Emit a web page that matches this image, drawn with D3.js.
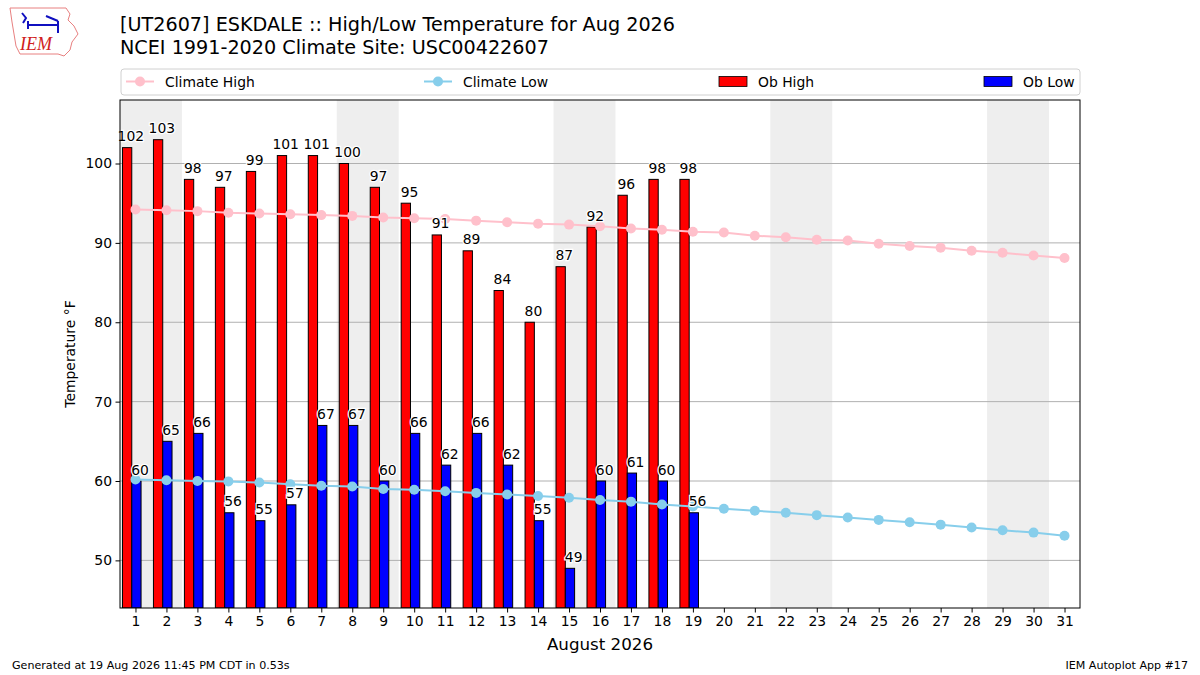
<!DOCTYPE html>
<html>
<head>
<meta charset="utf-8">
<script src="https://cdn.jsdelivr.net/npm/d3@7"></script>
<style>
  body { margin: 0; background: #fff; }
  svg { display: block; font-family: "DejaVu Sans", sans-serif; }
</style>
</head>
<body>
<div id="chart"></div>
<script>
// ---------- data ----------
const days = d3.range(1, 32);
const obHigh = [102, 103, 98, 97, 99, 101, 101, 100, 97, 95, 91, 89, 84, 80, 87, 92, 96, 98, 98];
const obLow = [60, 65, 66, 56, 55, 57, 67, 67, 60, 66, 62, 66, 62, 55, 49, 60, 61, 60, 56];
const climHigh = [94.2, 94.1, 94.0, 93.8, 93.7, 93.6, 93.5, 93.4, 93.2, 93.1, 93.0, 92.8, 92.6, 92.4, 92.3,
  92.1, 91.8, 91.65, 91.4, 91.3, 90.9, 90.7, 90.4, 90.3, 89.9, 89.6, 89.4, 89.0, 88.75, 88.4, 88.1];
const climLow = [60.2, 60.1, 60.0, 59.95, 59.8, 59.6, 59.4, 59.3, 59.0, 58.9, 58.7, 58.5, 58.3, 58.1, 57.9,
  57.6, 57.4, 57.05, 56.8, 56.5, 56.25, 56.0, 55.7, 55.4, 55.1, 54.8, 54.5, 54.15, 53.8, 53.5, 53.1];
const weekendStarts = [1, 8, 15, 22, 29]; // Saturdays
const yTicks = [50, 60, 70, 80, 90, 100];

const W = 1200, H = 675;
const margin = { left: 120, right: 120, top: 100, bottom: 67 };
const FS = 13.9; // 10pt

const svg = d3.select('#chart').append('svg')
  .attr('width', W).attr('height', H)
  .attr('viewBox', `0 0 ${W} ${H}`);

const x = d3.scaleLinear().domain([0.5, 31.5]).range([margin.left, W - margin.right]);
const y = d3.scaleLinear()
  .domain([d3.min(obLow) - 5, d3.max(obHigh) + 5])
  .range([H - margin.bottom, margin.top]);

const plot = svg.append('g');
plot.append('defs').append('clipPath').attr('id', 'clip')
  .append('rect')
  .attr('x', margin.left).attr('y', margin.top)
  .attr('width', W - margin.left - margin.right)
  .attr('height', H - margin.top - margin.bottom);

const inner = plot.append('g').attr('clip-path', 'url(#clip)');

// weekend shading
inner.selectAll('rect.wk').data(weekendStarts).join('rect')
  .attr('class', 'wk')
  .attr('x', d => x(d - 0.5))
  .attr('width', d => x(d + 1.5) - x(d - 0.5))
  .attr('y', margin.top)
  .attr('height', H - margin.top - margin.bottom)
  .attr('fill', '#eeeeee');

// y grid
inner.selectAll('line.grid').data(yTicks).join('line')
  .attr('class', 'grid')
  .attr('x1', margin.left).attr('x2', W - margin.right)
  .attr('y1', d => y(d)).attr('y2', d => y(d))
  .attr('stroke', '#b0b0b0').attr('stroke-width', 1);

// bars
const hiData = obHigh.map((v, i) => ({ d: i + 1, v }));
const loData = obLow.map((v, i) => ({ d: i + 1, v }));
inner.selectAll('rect.hi').data(hiData).join('rect')
  .attr('class', 'hi')
  .attr('x', p => x(p.d - 0.42))
  .attr('width', x(0.3) - x(0))
  .attr('y', p => y(p.v))
  .attr('height', p => y.range()[0] - y(p.v))
  .attr('fill', '#ff0000').attr('stroke', '#000').attr('stroke-width', 1);
inner.selectAll('rect.lo').data(loData).join('rect')
  .attr('class', 'lo')
  .attr('x', p => x(p.d - 0.12))
  .attr('width', x(0.3) - x(0))
  .attr('y', p => y(p.v))
  .attr('height', p => y.range()[0] - y(p.v))
  .attr('fill', '#0000ff').attr('stroke', '#000').attr('stroke-width', 1);

// climatology lines
function climLine(vals, color) {
  const pts = vals.map((v, i) => ({ d: i + 1, v }));
  inner.append('path').datum(pts)
    .attr('fill', 'none').attr('stroke', color).attr('stroke-width', 2)
    .attr('d', d3.line().x(p => x(p.d)).y(p => y(p.v)));
  inner.selectAll(null).data(pts).join('circle')
    .attr('cx', p => x(p.d)).attr('cy', p => y(p.v)).attr('r', 5)
    .attr('fill', color);
}
climLine(climHigh, '#ffc0cb');
climLine(climLow, '#87ceeb');

// value labels
function valueLabels(data, off) {
  plot.selectAll(null).data(data).join('text')
    .attr('x', p => x(p.d + off))
    .attr('y', p => y(p.v) - 6.5)
    .attr('text-anchor', 'middle')
    .attr('font-size', FS)
    .attr('fill', '#000')
    .attr('stroke', '#fff').attr('stroke-width', 2.5)
    .attr('paint-order', 'stroke')
    .text(p => p.v);
}
valueLabels(hiData, -0.15);
valueLabels(loData, 0.15);

// frame
plot.append('rect')
  .attr('x', margin.left).attr('y', margin.top)
  .attr('width', W - margin.left - margin.right)
  .attr('height', H - margin.top - margin.bottom)
  .attr('fill', 'none').attr('stroke', '#000').attr('stroke-width', 1);

// axes
const xAxis = svg.append('g')
  .attr('transform', `translate(0,${H - margin.bottom})`)
  .call(d3.axisBottom(x).tickValues(days).tickFormat(d3.format('d')).tickSize(4.5).tickPadding(3.5));
const yAxis = svg.append('g')
  .attr('transform', `translate(${margin.left},0)`)
  .call(d3.axisLeft(y).tickValues(yTicks).tickSize(4.5).tickPadding(3.5));
[xAxis, yAxis].forEach(a => {
  a.select('.domain').remove();
  a.selectAll('text').attr('font-size', FS).attr('fill', '#000').attr('font-family', '"DejaVu Sans", sans-serif');
  a.selectAll('line').attr('stroke', '#000');
});

svg.append('text')
  .attr('transform', `translate(75,${(margin.top + H - margin.bottom) / 2}) rotate(-90)`)
  .attr('text-anchor', 'middle').attr('font-size', FS).text('Temperature °F');
svg.append('text')
  .attr('x', (margin.left + W - margin.right) / 2).attr('y', 650)
  .attr('text-anchor', 'middle').attr('font-size', 16.7).text('August 2026');

// titles
svg.append('text').attr('x', 120).attr('y', 31).attr('font-size', 19.2)
  .text('[UT2607] ESKDALE :: High/Low Temperature for Aug 2026');
svg.append('text').attr('x', 120).attr('y', 54).attr('font-size', 19.2)
  .text('NCEI 1991-2020 Climate Site: USC00422607');

// legend
const leg = svg.append('g');
leg.append('rect')
  .attr('x', 121).attr('y', 69).attr('width', 959).attr('height', 26).attr('rx', 3)
  .attr('fill', '#fff').attr('stroke', '#d0d0d0');
const legendItems = [
  { label: 'Climate High', kind: 'line', color: '#ffc0cb', x: 126 },
  { label: 'Climate Low', kind: 'line', color: '#87ceeb', x: 424 },
  { label: 'Ob High', kind: 'bar', color: '#ff0000', x: 719 },
  { label: 'Ob Low', kind: 'bar', color: '#0000ff', x: 984 }
];
legendItems.forEach(it => {
  const ly = 81.5;
  if (it.kind === 'line') {
    leg.append('line').attr('x1', it.x).attr('x2', it.x + 28).attr('y1', ly).attr('y2', ly)
      .attr('stroke', it.color).attr('stroke-width', 2);
    leg.append('circle').attr('cx', it.x + 14).attr('cy', ly).attr('r', 5).attr('fill', it.color);
  } else {
    leg.append('rect').attr('x', it.x).attr('y', ly - 5).attr('width', 28).attr('height', 10)
      .attr('fill', it.color).attr('stroke', '#000').attr('stroke-width', 0.8);
  }
  leg.append('text').attr('x', it.x + 39).attr('y', ly + 5).attr('font-size', FS).text(it.label);
});

// footer
svg.append('text').attr('x', 12).attr('y', 669).attr('font-size', 11.1).text('Generated at 19 Aug 2026 11:45 PM CDT in 0.53s');
svg.append('text').attr('x', 1188).attr('y', 669).attr('font-size', 11.1).attr('text-anchor', 'end').text('IEM Autoplot App #17');

// rough IEM logo
const logo = svg.append('g');
logo.append('path')
  .attr('d', 'M10,8 L66,8 L70,14 L68,20 L74,26 L78,34 L72,42 L70,50 L64,56 L58,54 L20,54 L16,46 L14,34 L12,22 Z')
  .attr('fill', '#fff').attr('stroke', '#e88080').attr('stroke-width', 1);
logo.append('path')
  .attr('d', 'M28,25 L58,25 M28,21 L28,29 M58,21 L58,33 M46,16 L58,21 M22,13 L26,18 L23,23')
  .attr('fill', 'none').attr('stroke', '#1010c0').attr('stroke-width', 2);
logo.append('text').attr('x', 20).attr('y', 50).attr('font-size', 18).attr('font-style', 'italic')
  .attr('font-family', '"Liberation Serif", serif').attr('fill', '#d02020').text('IEM');
</script>
</body>
</html>
